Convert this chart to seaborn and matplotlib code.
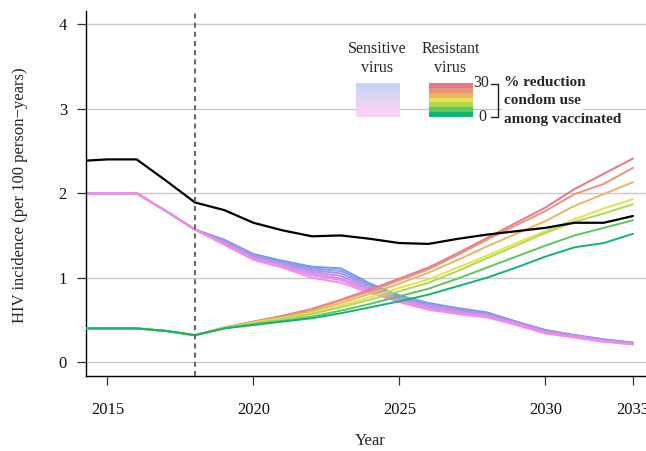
import numpy as np
import pandas as pd
import matplotlib
matplotlib.use("Agg")
import matplotlib.pyplot as plt
from matplotlib.lines import Line2D
import seaborn as sns

# ---------------------------------------------------------------- data
years = list(range(2014, 2034))
hist_years = years[:5]          # 2014-2018, shared by all scenarios
proj_years = years[5:]          # 2019-2033

# total incidence (no reduction in condom use)
total = [2.38, 2.40, 2.40, 2.15, 1.89, 1.80, 1.65, 1.56, 1.49, 1.50,
         1.46, 1.41, 1.40, 1.46, 1.51, 1.55, 1.59, 1.65, 1.65, 1.73]

# common history before vaccination starts
sens_hist = [2.00, 2.00, 2.00, 1.79, 1.57]
res_hist = [0.40, 0.40, 0.40, 0.37, 0.32]

# % reduction in condom use among vaccinated
reductions = [30, 25, 20, 15, 10, 5, 0]

# sensitive-virus incidence, 2019-2033
sens_30 = [1.45, 1.28, 1.20, 1.13, 1.11, 0.93, 0.79, 0.70, 0.64, 0.59, 0.48, 0.38, 0.32, 0.27, 0.23]
sens_25 = [1.44, 1.27, 1.18, 1.11, 1.08, 0.91, 0.78, 0.69, 0.63, 0.58, 0.48, 0.38, 0.32, 0.27, 0.23]
sens_20 = [1.43, 1.26, 1.17, 1.09, 1.05, 0.89, 0.76, 0.68, 0.62, 0.57, 0.47, 0.37, 0.31, 0.26, 0.22]
sens_15 = [1.42, 1.24, 1.16, 1.07, 1.02, 0.87, 0.75, 0.66, 0.61, 0.56, 0.46, 0.36, 0.31, 0.26, 0.22]
sens_10 = [1.41, 1.23, 1.15, 1.05, 0.99, 0.85, 0.74, 0.65, 0.59, 0.55, 0.46, 0.36, 0.30, 0.25, 0.22]
sens_5 = [1.40, 1.22, 1.13, 1.03, 0.97, 0.84, 0.72, 0.63, 0.58, 0.54, 0.45, 0.35, 0.30, 0.25, 0.21]
sens_0 = [1.39, 1.21, 1.12, 1.00, 0.94, 0.82, 0.71, 0.62, 0.57, 0.53, 0.44, 0.34, 0.29, 0.24, 0.21]

# resistant-virus incidence, 2019-2033
res_30 = [0.41, 0.48, 0.55, 0.63, 0.74, 0.86, 0.99, 1.12, 1.29, 1.47, 1.65, 1.83, 2.05, 2.23, 2.41]
res_25 = [0.41, 0.48, 0.54, 0.62, 0.73, 0.84, 0.97, 1.10, 1.27, 1.45, 1.62, 1.79, 1.99, 2.11, 2.30]
res_20 = [0.41, 0.47, 0.53, 0.60, 0.70, 0.81, 0.93, 1.06, 1.21, 1.37, 1.52, 1.67, 1.85, 1.99, 2.13]
res_15 = [0.40, 0.47, 0.52, 0.58, 0.67, 0.77, 0.88, 0.98, 1.12, 1.26, 1.41, 1.55, 1.69, 1.82, 1.93]
res_10 = [0.40, 0.46, 0.51, 0.57, 0.65, 0.74, 0.84, 0.94, 1.08, 1.23, 1.38, 1.53, 1.66, 1.76, 1.87]
res_5 = [0.40, 0.45, 0.49, 0.54, 0.61, 0.69, 0.78, 0.87, 0.99, 1.12, 1.25, 1.38, 1.50, 1.59, 1.68]
res_0 = [0.40, 0.44, 0.48, 0.52, 0.58, 0.65, 0.72, 0.80, 0.90, 1.00, 1.12, 1.25, 1.36, 1.41, 1.52]

sens_proj = [sens_30, sens_25, sens_20, sens_15, sens_10, sens_5, sens_0]
res_proj = [res_30, res_25, res_20, res_15, res_10, res_5, res_0]

x_ticks = [2015, 2020, 2025, 2030, 2033]
y_ticks = [0, 1, 2, 3, 4]
vacc_start = 2018

# ---------------------------------------------------------------- styling
sens_colors = ["#6E9BE8", "#8A99EA", "#A497EA", "#BC94EA", "#D291EA", "#E68EEA", "#F68BE8"]
res_colors = ["#E8768C", "#E8957A", "#E9B665", "#E6E24A", "#AEDA50", "#5FC65E", "#13B46E"]

sns.set_style("white")
plt.rcParams["font.family"] = ["Liberation Serif", "DejaVu Serif"]

W, H = 646, 451
fig = plt.figure(figsize=(W / 100, H / 100), dpi=100)


def fx(px):
    return px / W


def fy(py):
    return 1 - py / H


ax = fig.add_axes([fx(86.4), fy(375.7), fx(654) - fx(86.4), fy(10.7) - fy(375.7)])

# ---------------------------------------------------------------- long tables
sens_rows, res_rows = [], []
for r, sp, rp in zip(reductions, sens_proj, res_proj):
    for yr, v in zip(hist_years + proj_years, sens_hist + sp):
        sens_rows.append({"year": yr, "incidence": v, "scenario": f"s{r}"})
    for yr, v in zip(hist_years + proj_years, res_hist + rp):
        res_rows.append({"year": yr, "incidence": v, "scenario": f"r{r}"})
sens_df = pd.DataFrame(sens_rows)
res_df = pd.DataFrame(res_rows)
tot_df = pd.DataFrame({"year": years, "incidence": total})

# gridlines
for yv in y_ticks:
    ax.axhline(yv, color="#c8c8c8", lw=1.0, zorder=0)

sns.lineplot(data=sens_df, x="year", y="incidence", hue="scenario",
             hue_order=[f"s{r}" for r in reductions],
             palette=dict(zip([f"s{r}" for r in reductions], sens_colors)),
             estimator=None, lw=1.4, legend=False, ax=ax, zorder=2)
sns.lineplot(data=res_df, x="year", y="incidence", hue="scenario",
             hue_order=[f"r{r}" for r in reductions],
             palette=dict(zip([f"r{r}" for r in reductions], res_colors)),
             estimator=None, lw=1.4, legend=False, ax=ax, zorder=3)
sns.lineplot(data=tot_df, x="year", y="incidence", color="black",
             lw=1.6, legend=False, ax=ax, zorder=4)

ax.axvline(vacc_start, color="#6a6a6a", lw=1.5, ls=(0, (2.4, 2.0)), zorder=5)

ax.set_xlim(2014.28, 2033.72)
ax.set_ylim(-0.16, 4.16)
ax.set_xticks(x_ticks)
ax.set_yticks(y_ticks)
ax.set_xticklabels([str(t) for t in x_ticks])
ax.set_yticklabels([str(t) for t in y_ticks])
ax.tick_params(axis="both", which="major", bottom=True, left=True,
               direction="out", length=6.5, width=0.9,
               color="#333333", labelsize=12, labelcolor="#111111")
ax.tick_params(axis="x", pad=12.5)
ax.tick_params(axis="y", pad=7.5)
for s in ["top", "right"]:
    ax.spines[s].set_visible(False)
for s in ["left", "bottom"]:
    ax.spines[s].set_color("black")
    ax.spines[s].set_linewidth(1.0)
ax.set_xlabel("")
ax.set_ylabel("")

fig.text(fx(370), fy(441), "Year", ha="center", va="center", fontsize=12)
fig.text(fx(20), fy(195), "HIV incidence (per 100 person\u2212years)",
         rotation=90, ha="center", va="center", fontsize=12)

# ---------------------------------------------------------------- legend
fig.text(fx(377.5), fy(49), "Sensitive", ha="center", va="center", fontsize=11.5)
fig.text(fx(377.5), fy(68), "virus", ha="center", va="center", fontsize=11.5)
fig.text(fx(450.5), fy(49), "Resistant", ha="center", va="center", fontsize=11.5)
fig.text(fx(450.5), fy(68), "virus", ha="center", va="center", fontsize=11.5)


def pale(c, a=0.4):
    rgb = np.array(matplotlib.colors.to_rgb(c))
    return 1 - a * (1 - rgb)


sens_sw = np.array([pale(c) for c in sens_colors])[:, None, :]
res_sw = np.array([matplotlib.colors.to_rgb(c) for c in res_colors])[:, None, :]

ax_s = fig.add_axes([fx(355.7), fy(116.7), fx(399.3) - fx(355.7), fy(82.7) - fy(116.7)])
ax_s.imshow(sens_sw, aspect="auto", interpolation="bilinear")
ax_s.axis("off")
ax_r = fig.add_axes([fx(428.7), fy(116.7), fx(472.7) - fx(428.7), fy(82.7) - fy(116.7)])
ax_r.imshow(res_sw, aspect="auto", interpolation="nearest")
ax_r.axis("off")

# bracket with scale ends
for seg in ([(490.5, 497.7), (83.5, 83.5)],
            [(497.7, 497.7), (83.5, 116.5)],
            [(490.5, 497.7), (116.5, 116.5)]):
    fig.add_artist(Line2D([fx(v) for v in seg[0]], [fy(v) for v in seg[1]],
                          color="#222222", lw=1.0))
fig.text(fx(489), fy(83), "30", ha="right", va="center", fontsize=11.5)
fig.text(fx(486), fy(117), "0", ha="right", va="center", fontsize=11.5)

for txt, yy in (("% reduction", 82), ("condom use", 101), ("among vaccinated", 120)):
    fig.text(fx(504), fy(yy), txt, ha="left", va="center", fontsize=11,
             fontweight="bold",
             bbox=dict(facecolor="white", edgecolor="none", pad=1.5))

fig.savefig("out.png", dpi=100)
